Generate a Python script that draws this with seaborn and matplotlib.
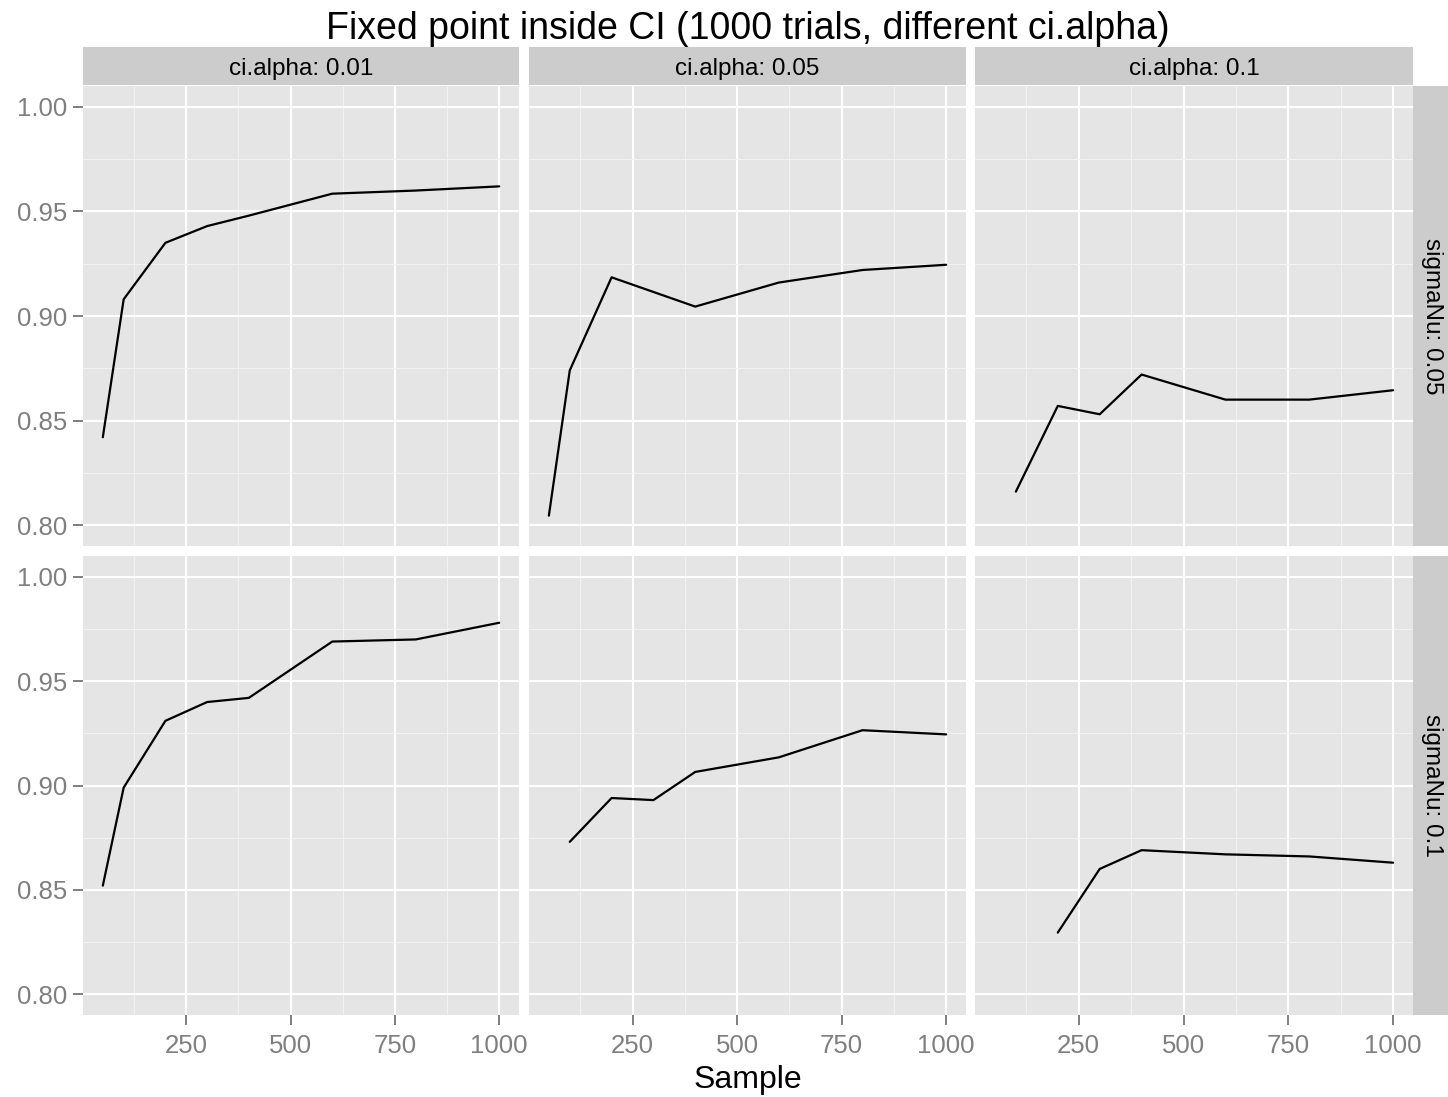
import matplotlib
matplotlib.use("Agg")
import matplotlib.pyplot as plt
from matplotlib.patches import Rectangle
import pandas as pd
import seaborn as sns

# Facet levels
ci_alpha_levels = ["0.01", "0.05", "0.1"]
sigma_nu_levels = ["0.05", "0.1"]

# Share of trials with the fixed point inside the CI, sigmaNu = 0.05
sample_s05_a001 = [50, 100, 200, 300, 400, 600, 800, 1000]
inside_s05_a001 = [0.842, 0.908, 0.935, 0.943, 0.948, 0.9585, 0.960, 0.962]
sample_s05_a005 = [50, 100, 200, 400, 600, 800, 1000]
inside_s05_a005 = [0.8045, 0.874, 0.9185, 0.9045, 0.916, 0.922, 0.9245]
sample_s05_a01 = [100, 200, 300, 400, 600, 800, 1000]
inside_s05_a01 = [0.816, 0.857, 0.853, 0.872, 0.860, 0.860, 0.8645]

# sigmaNu = 0.1
sample_s1_a001 = [50, 100, 200, 300, 400, 600, 800, 1000]
inside_s1_a001 = [0.852, 0.899, 0.931, 0.940, 0.942, 0.969, 0.970, 0.978]
sample_s1_a005 = [100, 200, 300, 400, 600, 800, 1000]
inside_s1_a005 = [0.873, 0.894, 0.893, 0.9065, 0.9135, 0.9265, 0.9245]
sample_s1_a01 = [200, 300, 400, 600, 800, 1000]
inside_s1_a01 = [0.8295, 0.860, 0.869, 0.867, 0.866, 0.863]

x_ticks = [250, 500, 750, 1000]
y_ticks = [0.80, 0.85, 0.90, 0.95, 1.00]

series = [
    ("0.05", "0.01", sample_s05_a001, inside_s05_a001),
    ("0.05", "0.05", sample_s05_a005, inside_s05_a005),
    ("0.05", "0.1", sample_s05_a01, inside_s05_a01),
    ("0.1", "0.01", sample_s1_a001, inside_s1_a001),
    ("0.1", "0.05", sample_s1_a005, inside_s1_a005),
    ("0.1", "0.1", sample_s1_a01, inside_s1_a01),
]
frames = []
for sn, ca, xs, ys in series:
    frames.append(pd.DataFrame({"sigmaNu": sn, "ci.alpha": ca, "Sample": xs, "inside": ys}))
df = pd.concat(frames, ignore_index=True)

sns.set_theme(style="white")
plt.rcParams["font.family"] = ["Liberation Sans", "DejaVu Sans"]

W, H = 1448, 1097
g = sns.relplot(
    data=df, x="Sample", y="inside",
    row="sigmaNu", col="ci.alpha",
    row_order=sigma_nu_levels, col_order=ci_alpha_levels,
    kind="line", color="black", linewidth=1.6, errorbar=None,
    facet_kws=dict(sharex=True, sharey=True),
    height=4, aspect=1.0,
)
fig = g.figure
fig.set_size_inches(W / 100, H / 100)
fig.set_dpi(100)
g.set_titles("")
g.set_axis_labels("", "")

col_x = [(83, 519), (529, 966), (975, 1413)]
row_y = [(86, 546), (556, 1015)]
grey_txt = "#7F7F7F"

for i in range(2):
    for j in range(3):
        ax = g.axes[i, j]
        x0, x1 = col_x[j]
        y0, y1 = row_y[i]
        ax.set_position([x0 / W, 1 - y1 / H, (x1 - x0) / W, (y1 - y0) / H])
        ax.set_facecolor("#E5E5E5")
        for s in ax.spines.values():
            s.set_visible(False)
        ax.set_xlim(2.5, 1047.5)
        ax.set_ylim(0.79, 1.01)
        ax.set_xticks(x_ticks)
        ax.set_yticks(y_ticks)
        ax.set_xticks([125, 375, 625, 875], minor=True)
        ax.set_yticks([0.825, 0.875, 0.925, 0.975], minor=True)
        ax.set_axisbelow(True)
        ax.grid(which="major", color="white", linewidth=1.5)
        ax.grid(which="minor", color="#F2F2F2", linewidth=0.8)
        ax.tick_params(which="minor", length=0)
        ax.tick_params(which="major", length=7, width=1.4, color=grey_txt,
                       labelcolor=grey_txt, labelsize=18.5, pad=4,
                       bottom=(i == 1), left=(j == 0),
                       labelbottom=(i == 1), labelleft=(j == 0))
        ax.tick_params(axis="x", pad=7)
        if j == 0:
            ax.set_yticklabels([f"{v:.2f}" for v in y_ticks])
        if i == 1:
            ax.set_xticklabels([str(v) for v in x_ticks])
        ax.set_xlabel("")
        ax.set_ylabel("")

# Column strips
for j, lab in enumerate(ci_alpha_levels):
    x0, x1 = col_x[j]
    fig.patches.append(Rectangle((x0 / W, 1 - 85 / H), (x1 - x0) / W, 38 / H,
                                 transform=fig.transFigure, facecolor="#CCCCCC",
                                 edgecolor="none", zorder=0))
    fig.text((x0 + x1) / 2 / W, 1 - 69 / H, f"ci.alpha: {lab}", ha="center",
             va="center", fontsize=17.5, color="black")

# Row strips
for i, lab in enumerate(sigma_nu_levels):
    y0, y1 = row_y[i]
    fig.patches.append(Rectangle((1413 / W, 1 - y1 / H), 35 / W, (y1 - y0) / H,
                                 transform=fig.transFigure, facecolor="#CCCCCC",
                                 edgecolor="none", zorder=0))
    fig.text(1432 / W, 1 - (y0 + y1) / 2 / H, f"sigmaNu: {lab}", ha="center",
             va="center", rotation=-90, fontsize=17.5, color="black")

fig.text(748 / W, 1 - 29 / H, "Fixed point inside CI (1000 trials, different ci.alpha)",
         ha="center", va="center", fontsize=27, color="black")
fig.text(748 / W, 1 - 1080 / H, "Sample", ha="center", va="center",
         fontsize=23, color="black")

fig.savefig("out.png", dpi=100, facecolor="white")
